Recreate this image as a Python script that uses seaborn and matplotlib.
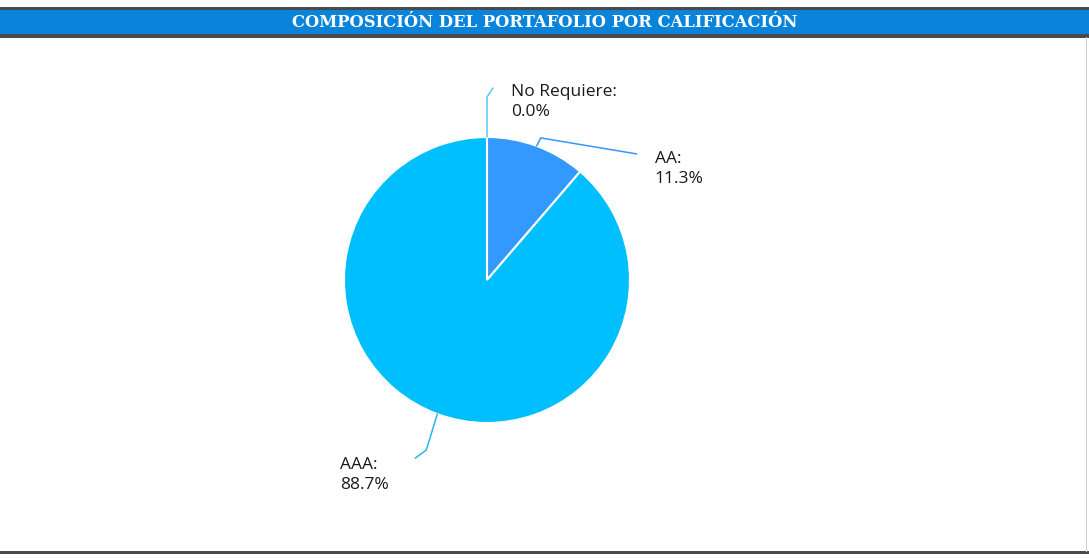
import matplotlib
matplotlib.use("Agg")
import matplotlib.pyplot as plt
from matplotlib.patches import Rectangle
import numpy as np
import seaborn as sns

# ---- data ----
categories = ["No Requiere", "AA", "AAA"]
values = [0.0, 11.3, 88.7]
slice_colors = ["#7FD4FF", "#3399FF", "#00BFFF"]
title = "COMPOSICIÓN DEL PORTAFOLIO POR CALIFICACIÓN"

sns.set_theme(style="white")
plt.rcParams['font.family'] = ['Open Sans', 'DejaVu Sans']

W, H = 1089, 559
fig = plt.figure(figsize=(W / 100, H / 100), dpi=100)
fig.patch.set_facecolor("white")

def px_rect(x0, y0, x1, y1, color, z=1):
    fig.patches.append(Rectangle((x0 / W, 1 - y1 / H), (x1 - x0) / W, (y1 - y0) / H,
                                 transform=fig.transFigure, facecolor=color,
                                 edgecolor="none", zorder=z))

px_rect(0, 7, W, 38, "#0A84DA")
px_rect(0, 7, W, 10, "#4a4a4a", 2)
px_rect(0, 34, W, 37.5, "#4a4a4a", 2)
px_rect(0, 551, W, 554, "#4a4a4a", 2)
px_rect(1086, 37, 1087, 552, "#d0d0d0", 2)
fig.text(545 / W, 1 - 22.5 / H, title, ha="center", va="center", color="white",
         fontsize=11.8, fontweight="bold",
         family=["DejaVu Serif", "Liberation Serif"], zorder=3)

ax = fig.add_axes([0, 0, 1, 1])
cx, cy, R = 487, H - 280, 143
wedges, _ = ax.pie(values, colors=slice_colors, startangle=90, counterclock=False,
                   center=(cx, cy), radius=R, frame=True,
                   wedgeprops=dict(edgecolor="white", linewidth=1.5))
ax.set_xlim(0, W)
ax.set_ylim(0, H)
ax.set_aspect("equal")
ax.axis("off")

label_cfg = {
    "No Requiere": dict(elbow=(0, 40), end=(6, 49), text=(24, 53), color="#5BC8F0"),
    "AA": dict(elbow=(4, 8), end=(100, -8), text=(118, -5), color="#3399FF"),
    "AAA": dict(elbow=(-11, -36), end=(-22, -44), text=(-97, -43), color="#29B6E8"),
}
total = sum(values)
start = 90.0
for cat, v in zip(categories, values):
    span = v / total * 360
    mid = np.deg2rad(start - span / 2)
    start -= span
    ax_, ay_ = cx + R * np.cos(mid), cy + R * np.sin(mid)
    c = label_cfg[cat]
    ex, ey = ax_ + c["elbow"][0], ay_ + c["elbow"][1]
    fx, fy = ax_ + c["end"][0], ay_ + c["end"][1]
    ax.plot([ax_, ex, fx], [ay_, ey, fy], color=c["color"], lw=1.1, zorder=5)
    tx, ty = ax_ + c["text"][0], ay_ + c["text"][1]
    ax.text(tx, ty, f"{cat}:\n{v:.1f}%", ha="left", va="top", fontsize=12.5,
            color="#1a1a1a", linespacing=1.35, zorder=6)

fig.savefig("out.png", dpi=100, facecolor="white")
